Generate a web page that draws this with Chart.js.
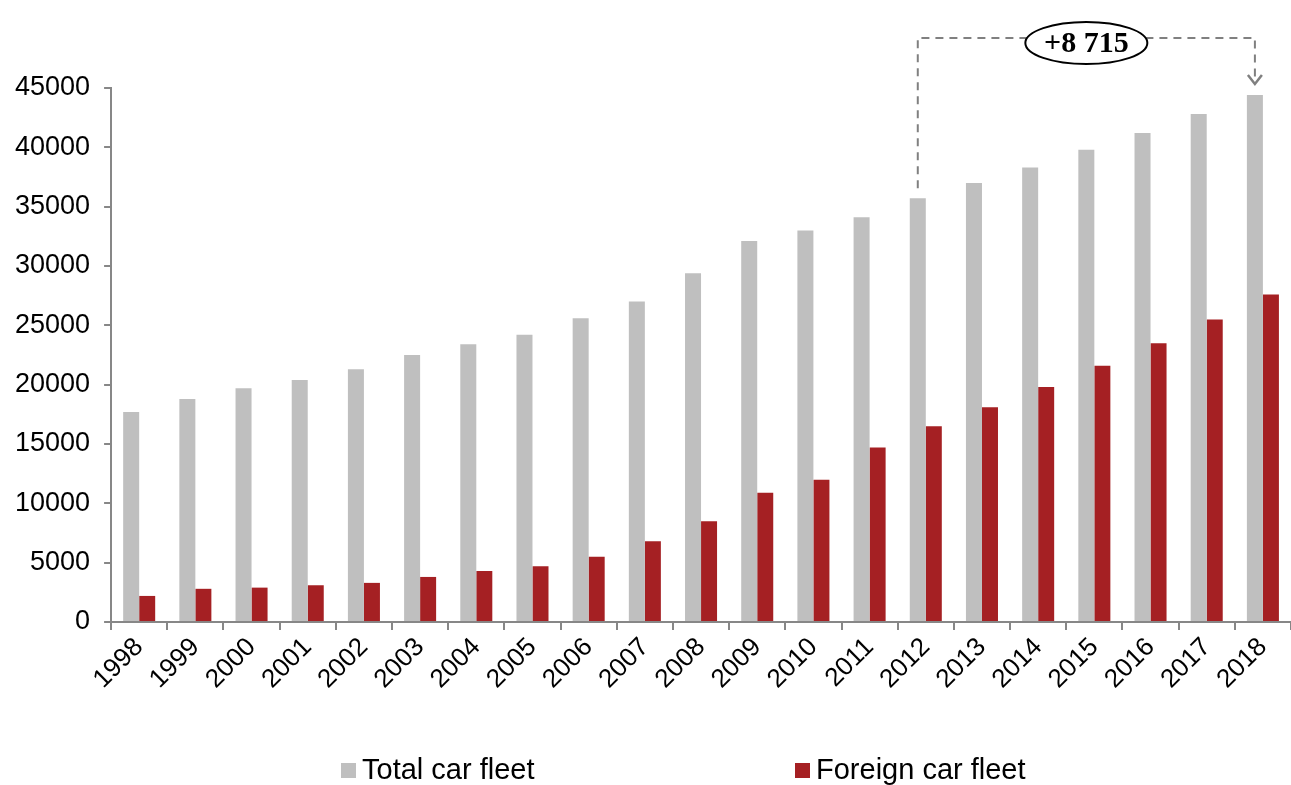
<!DOCTYPE html>
<html>
<head>
<meta charset="utf-8">
<title>Car fleet</title>
<script src="https://cdn.jsdelivr.net/npm/chart.js@4.4.1/dist/chart.umd.min.js"></script>
<style>
  html,body{margin:0;padding:0;background:#fff;}
  #wrap{position:relative;width:1291px;height:785px;overflow:hidden;}
  #chart{position:absolute;left:0;top:0;}
  .leg{position:absolute;top:752px;font-family:"Liberation Sans",Arial,sans-serif;font-size:29px;color:#000;white-space:nowrap;line-height:34px;}
  .leg i{display:inline-block;width:15px;height:15px;margin-right:6px;vertical-align:1px;}
</style>
</head>
<body>
<div id="wrap">
  <canvas id="chart" width="1291" height="785"></canvas>
  <div class="leg" style="left:341px"><i style="background:#bfbfbf"></i>Total car fleet</div>
  <div class="leg" style="left:795px"><i style="background:#a52023"></i>Foreign car fleet</div>
</div>
<script>
// data
const years = ['1998','1999','2000','2001','2002','2003','2004','2005','2006','2007','2008','2009','2010','2011','2012','2013','2014','2015','2016','2017','2018'];
const totalFleet = [17700,18800,19700,20400,21300,22500,23400,24200,25600,27000,29400,32100,33000,34100,35700,37000,38300,39800,41200,42800,44415];
const foreignFleet = [2200,2800,2900,3100,3300,3800,4300,4700,5500,6800,8500,10900,12000,14700,16500,18100,19800,21600,23500,25500,27600];
const yTicks = [0,5000,10000,15000,20000,25000,30000,35000,40000,45000];

// growth marker between these two years
const fromIdx = years.indexOf('2012');
const toIdx = years.indexOf('2018');

function fmtSpace(n){ return String(n).replace(/\B(?=(\d{3})+(?!\d))/g,' '); }

const growthMarker = {
  id:'growthMarker',
  afterDatasetsDraw(chart){
    const ctx = chart.ctx;
    const meta = chart.getDatasetMeta(0);
    const a = meta.data[fromIdx], b = meta.data[toIdx];
    const lineY = chart.chartArea.top - 50;
    ctx.save();
    ctx.strokeStyle = '#808080';
    ctx.lineWidth = 2;
    ctx.setLineDash([8,6]);
    ctx.beginPath();
    ctx.moveTo(a.x, a.y - 10);
    ctx.lineTo(a.x, lineY);
    ctx.lineTo(b.x, lineY);
    ctx.lineTo(b.x, b.y - 14);
    ctx.stroke();
    // arrow head
    ctx.setLineDash([]);
    ctx.lineWidth = 2.5;
    const tip = b.y - 11;
    ctx.beginPath();
    ctx.moveTo(b.x - 7, tip - 9);
    ctx.lineTo(b.x, tip);
    ctx.lineTo(b.x + 7, tip - 9);
    ctx.stroke();
    // label in ellipse
    const cx = (a.x + b.x)/2, cy = lineY + 5;
    ctx.fillStyle = '#fff';
    ctx.strokeStyle = '#000';
    ctx.lineWidth = 2;
    ctx.beginPath();
    ctx.ellipse(cx, cy, 61, 21, 0, 0, Math.PI*2);
    ctx.fill();
    ctx.stroke();
    ctx.fillStyle = '#000';
    ctx.font = 'bold 30px "Liberation Serif", "DejaVu Serif", serif';
    ctx.textAlign = 'center';
    ctx.textBaseline = 'middle';
    ctx.fillText('+' + fmtSpace(totalFleet[toIdx] - totalFleet[fromIdx]), cx, cy + 1);
    ctx.restore();
  }
};

const axisColor = '#878787';
new Chart(document.getElementById('chart').getContext('2d'), {
  type:'bar',
  data:{
    labels: years,
    datasets:[
      {label:'Total car fleet', data: totalFleet, backgroundColor:'#bfbfbf', barPercentage:1, categoryPercentage:0.57},
      {label:'Foreign car fleet', data: foreignFleet, backgroundColor:'#a52023', barPercentage:1, categoryPercentage:0.57}
    ]
  },
  options:{
    responsive:false,
    animation:false,
    layout:{ padding:{ top:88, right:0, left:1, bottom:88 } },
    plugins:{ legend:{display:false}, tooltip:{enabled:false} },
    scales:{
      x:{
        grid:{ offset:true, drawOnChartArea:false, drawTicks:true, tickLength:8, color:axisColor, lineWidth:2 },
        border:{ color:axisColor, width:2 },
        ticks:{ color:'#000', font:{family:'"Liberation Sans", Arial, sans-serif', size:26}, minRotation:45, maxRotation:45, padding:2 }
      },
      y:{
        min:0, max:45000,
        afterBuildTicks(scale){ scale.ticks = yTicks.map(v=>({value:v})); },
        grid:{ drawOnChartArea:false, drawTicks:true, tickLength:7, color:axisColor, lineWidth:2 },
        border:{ color:axisColor, width:2 },
        ticks:{ color:'#000', font:{family:'"Liberation Sans", Arial, sans-serif', size:27}, padding:14, callback:v=>String(v) }
      }
    }
  },
  plugins:[growthMarker]
});
</script>
</body>
</html>
